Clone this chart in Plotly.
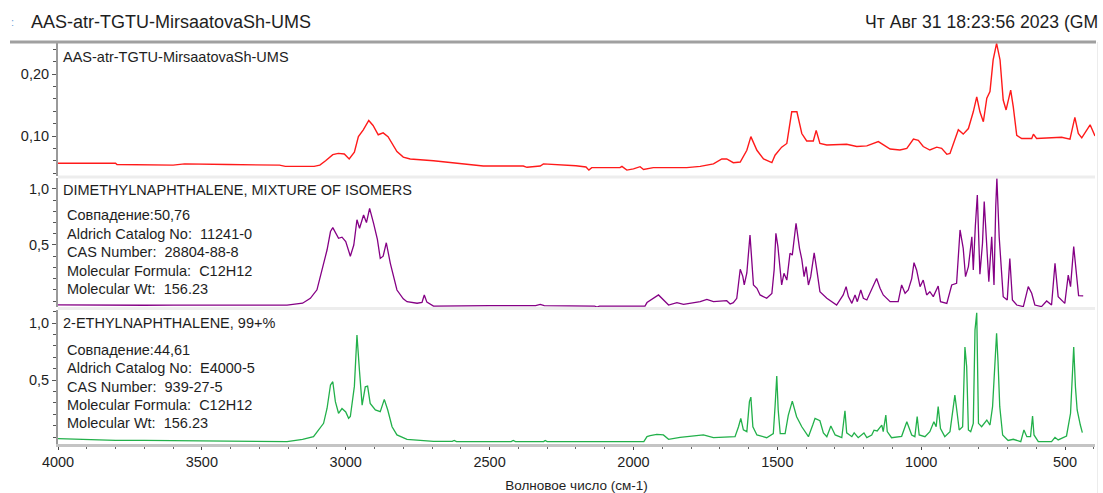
import plotly.graph_objects as go

# ---- sample spectrum (ATR) ----
red_wn = [4000, 3800, 3795, 3700, 3690, 3600, 3560, 3420, 3410, 3230, 3210, 3110, 3090, 3070,
          3045, 3026, 3005, 2988, 2970, 2956, 2939, 2920, 2905, 2887, 2870, 2853, 2822, 2800,
          2776, 2695, 2661, 2578, 2522, 2383, 2370, 2324, 2313, 2200, 2165, 2155, 2145, 2116,
          2047, 2040, 2023, 2000, 1977, 1965, 1931, 1815, 1768, 1722, 1693, 1676, 1653, 1629,
          1606, 1592, 1571, 1548, 1519, 1508, 1485, 1467, 1450, 1432, 1415, 1398, 1375, 1365,
          1352, 1328, 1259, 1224, 1189, 1149, 1108, 1074, 1050, 1027, 1010, 993, 970, 946, 929,
          911, 900, 871, 854, 836, 819, 807, 796, 784, 772, 761, 750, 738, 726, 715, 705, 689,
          680, 668, 651, 616, 610, 599, 553, 512, 483, 466, 454, 442, 413, 396]
red_abs = [0.056, 0.056, 0.054, 0.054, 0.053, 0.053, 0.055, 0.055, 0.054, 0.053, 0.051, 0.051, 0.053, 0.060,
           0.070, 0.072, 0.071, 0.063, 0.074, 0.099, 0.110, 0.125, 0.117, 0.102, 0.105, 0.099, 0.075, 0.066,
           0.063, 0.060, 0.0585, 0.0543, 0.0516, 0.0516, 0.0495, 0.0516, 0.055, 0.052, 0.050, 0.045, 0.049, 0.049,
           0.049, 0.051, 0.045, 0.047, 0.0505, 0.046, 0.049, 0.049, 0.051, 0.055, 0.063, 0.063, 0.057, 0.058,
           0.077, 0.099, 0.077, 0.063, 0.057, 0.069, 0.082, 0.088, 0.139, 0.139, 0.104, 0.092, 0.092, 0.109,
           0.088, 0.0855, 0.0866, 0.083, 0.084, 0.091, 0.079, 0.0774, 0.080, 0.095, 0.093, 0.083, 0.0774, 0.082, 0.080,
           0.0705, 0.072, 0.110, 0.103, 0.112, 0.139, 0.163, 0.139, 0.123, 0.161, 0.1715, 0.2226, 0.2495, 0.2226, 0.158, 0.142, 0.174,
           0.147, 0.101, 0.096, 0.096, 0.103, 0.096, 0.097, 0.098, 0.095, 0.130, 0.104, 0.097, 0.118, 0.100]

# ---- library spectrum: dimethylnaphthalene ----
dmn_wn = [4000, 3900, 3800, 3700, 3600, 3400, 3204, 3150, 3123, 3100, 3088, 3065, 3053, 3045, 3025,
          3013, 3000, 2990, 2984, 2972, 2961, 2952, 2938, 2928, 2917, 2903, 2890, 2880, 2870, 2859,
          2845, 2822, 2800, 2787, 2752, 2735, 2727, 2718, 2695, 2500, 2340, 2324, 2310, 2135, 2127,
          2118, 1960, 1953, 1913, 1878, 1849, 1826, 1768, 1745, 1722, 1676, 1664, 1653, 1641, 1629,
          1620, 1615, 1606, 1595, 1589, 1583, 1571, 1560, 1537, 1519, 1511, 1505, 1498, 1490, 1485,
          1477, 1467, 1456, 1448, 1435, 1423, 1415, 1407, 1400, 1392, 1384, 1372, 1363, 1352, 1328,
          1294, 1271, 1261, 1253, 1241, 1230, 1222, 1210, 1201, 1189, 1172, 1164, 1155, 1143, 1132,
          1108, 1080, 1068, 1056, 1045, 1033, 1025, 1016, 1004, 993, 981, 970, 958, 941, 933, 911,
          894, 877, 865, 854, 846, 836, 824, 819, 812, 805, 796, 787, 781, 773, 765, 755, 747, 741,
          737, 729, 715, 701, 692, 683, 668, 645, 628, 616, 605, 582, 564, 547, 535, 524, 501, 489,
          481, 470, 461, 453, 437]
dmn_abs = [-0.035, -0.038, -0.036, -0.038, -0.036, -0.036, -0.036, -0.02, 0.024, 0.10, 0.217, 0.455, 0.62, 0.655, 0.56,
           0.57, 0.53, 0.45, 0.40, 0.50, 0.725, 0.649, 0.768, 0.70, 0.827, 0.69, 0.55, 0.38, 0.40, 0.52,
           0.336, 0.098, 0.02, -0.006, -0.02, -0.012, 0.054, -0.01, -0.045, -0.042, -0.042, -0.03, -0.042, -0.045, -0.055,
           -0.045, -0.045, -0.014, 0.054, -0.036, -0.014, -0.03, -0.006, 0.015, -0.006, 0.003, -0.027, -0.015, 0.024, 0.283,
           0.22, 0.143, 0.25, 0.589, 0.36, 0.143, 0.113, 0.054, 0.024, 0.068, 0.28, 0.604, 0.485, 0.28, 0.143,
           0.247, 0.187, 0.426, 0.41, 0.694, 0.47, 0.372, 0.217, 0.307, 0.143, 0.217, 0.43, 0.28, 0.083, 0.024,
           -0.036, 0.054, 0.128, 0.039, -0.021, 0.054, -0.006, 0.098, 0.024, 0.009, 0.113, 0.158, 0.20, 0.113, 0.054,
           -0.006, -0.006, 0.143, 0.069, 0.098, 0.20, 0.342, 0.277, 0.128, 0.187, 0.054, 0.083, 0.039, 0.134, -0.006, -0.021,
           0.143, 0.158, 0.634, 0.47, 0.217, 0.307, 0.574, 0.277, 0.663, 0.946, 0.24, 0.515, 0.887, 0.574, 0.172, 0.574, 0.143, 0.842,
           1.095, 0.574, 0.039, 0.009, 0.38, 0.009, -0.036, -0.05, 0.128, 0.069, -0.036, -0.05, 0.0, -0.036, 0.336, 0.039, -0.021, 0.232,
           0.128, 0.485, 0.277, 0.048, 0.045]

# ---- library spectrum: 2-ethylnaphthalene ----
etn_wn = [4000, 3950, 3900, 3800, 3700, 3500, 3300, 3204, 3150, 3112, 3077, 3065, 3053, 3045, 3036,
          3025, 3013, 3000, 2990, 2984, 2970, 2961, 2952, 2943, 2932, 2924, 2915, 2897, 2880, 2866,
          2854, 2839, 2822, 2787, 2695, 2630, 2623, 2615, 2425, 2418, 2410, 2312, 2307, 2300, 1964,
          1953, 1942, 1919, 1896, 1878, 1838, 1792, 1757, 1722, 1676, 1647, 1635, 1627, 1618, 1606,
          1597, 1592, 1585, 1571, 1537, 1514, 1508, 1502, 1497, 1490, 1473, 1462, 1448, 1433, 1415,
          1392, 1377, 1369, 1352, 1340, 1328, 1314, 1299, 1276, 1265, 1259, 1241, 1233, 1219, 1199,
          1189, 1172, 1164, 1153, 1137, 1132, 1123, 1118, 1103, 1068, 1050, 1033, 1022, 1014, 1007,
          987, 970, 956, 948, 941, 933, 918, 900, 891, 883, 875, 868, 856, 848, 842, 836, 828, 819,
          813, 807, 801, 790, 772, 761, 752, 744, 738, 733, 727, 717, 698, 680, 654, 643, 633, 620,
          613, 608, 593, 547, 535, 524, 495, 481, 474, 470, 464, 458, 447, 440]
etn_abs = [-0.015, -0.02, -0.025, -0.03, -0.03, -0.035, -0.04, -0.04, -0.02, 0.003, 0.12, 0.25, 0.456, 0.485, 0.31,
           0.208, 0.25, 0.22, 0.164, 0.18, 0.444, 0.895, 0.573, 0.28, 0.44, 0.447, 0.295, 0.237, 0.222, 0.33,
           0.237, 0.09, 0.018, -0.02, -0.038, -0.038, -0.03, -0.04, -0.04, -0.03, -0.04, -0.04, -0.03, -0.04, -0.041,
           0.003, 0.012, 0.023, 0.018, -0.02, -0.003, 0.009, 0.018, -0.006, 0.003, 0.003, 0.09, 0.164, 0.062, 0.047,
           0.31, 0.35, 0.09, 0.018, -0.006, 0.03, 0.266, 0.535, 0.237, 0.03, 0.03, 0.19, 0.315, 0.178, 0.09,
           0.003, 0.105, 0.164, 0.143, 0.036, 0.003, 0.096, 0.018, -0.006, 0.23, 0.036, 0.003, 0.036, -0.006, 0.036,
           -0.006, 0.018, 0.06, 0.053, 0.105, 0.047, 0.193, 0.047, -0.006, 0.006, 0.134, 0.018, 0.003, 0.18, 0.018,
           0.003, 0.047, 0.134, 0.09, 0.266, 0.074, 0.003, 0.047, 0.208, 0.368, 0.208, 0.062, 0.09, 0.79, 0.617, 0.062, 0.047, 0.12,
           0.94, 1.09, 0.12, 0.09, 0.149, 0.105, 0.266, 0.676, 0.91, 0.66, 0.266, 0.018, -0.03, -0.02, -0.04, 0.062, 0.003, 0.003,
           0.184, 0.018, -0.041, -0.041, -0.003, -0.026, 0.009, 0.208, 0.573, 0.79, 0.44, 0.237, 0.105, 0.038]

x_ticks = [4000, 3500, 3000, 2500, 2000, 1500, 1000, 500]
header_title = "AAS-atr-TGTU-MirsaatovaSh-UMS"
header_date = "Чт Авг 31 18:23:56 2023 (GM"
NB = "\u00a0"
dmn_info = ["Совпадение:50,76",
            "Aldrich Catalog No:" + NB * 2 + "11241-0",
            "CAS Number:" + NB * 2 + "28804-88-8",
            "Molecular Formula:" + NB * 2 + "C12H12",
            "Molecular Wt:" + NB * 2 + "156.23"]
etn_info = ["Совпадение:44,61",
            "Aldrich Catalog No:" + NB * 2 + "E4000-5",
            "CAS Number:" + NB * 2 + "939-27-5",
            "Molecular Formula:" + NB * 2 + "C12H12",
            "Molecular Wt:" + NB * 2 + "156.23"]

W, H = 1103, 493
L, R, T, B = 58, 8, 42, 49
PW, PH = W - L - R, H - T - B
FONT = "Liberation Sans, Arial, sans-serif"
TXT = "#1e1e1e"


def fx(px):
    return (px - L) / PW


def fy(py):
    return (T + PH - py) / PH


fig = go.Figure()
fig.add_trace(go.Scatter(x=red_wn, y=red_abs, mode="lines", yaxis="y",
                         line=dict(color="#ff1a1a", width=1.4), hoverinfo="skip"))
fig.add_trace(go.Scatter(x=dmn_wn, y=dmn_abs, mode="lines", yaxis="y2",
                         line=dict(color="#850085", width=1.3), hoverinfo="skip"))
fig.add_trace(go.Scatter(x=etn_wn, y=etn_abs, mode="lines", yaxis="y3",
                         line=dict(color="#22b04a", width=1.3), hoverinfo="skip"))

yax_common = dict(showgrid=False, zeroline=False, showline=True, linecolor="#9a9a9a", linewidth=2,
                  ticks="outside", ticklen=4, tickwidth=1, tickcolor="#555555", automargin=False,
                  tickfont=dict(family=FONT, size=14.5, color=TXT), anchor="x", fixedrange=True)

fig.update_layout(
    width=W, height=H, margin=dict(l=L, r=R, t=T, b=B, autoexpand=False),
    paper_bgcolor="white", plot_bgcolor="white", showlegend=False,
    xaxis=dict(range=[4000, 396], anchor="y3", showgrid=False, zeroline=False, automargin=False,
               showline=True, linecolor="#c4c4c4", linewidth=3,
               tickmode="array", tickvals=x_ticks, ticktext=[str(v) for v in x_ticks],
               ticks="outside", ticklen=3, tickcolor="#444444",
               minor=dict(tickmode="linear", tick0=0, dtick=100, ticks="outside", ticklen=2, tickcolor="#666666"),
               tickfont=dict(family=FONT, size=14.5, color=TXT),
               title=dict(text="Волновое число (см-1)", font=dict(family=FONT, size=13.5, color=TXT), standoff=16)),
    yaxis=dict(domain=[fy(176), 1.0], range=[0.0355, 0.2516],
               tickmode="array", tickvals=[0.10, 0.20], ticktext=["0,10", "0,20"],
               minor=dict(tickmode="linear", tick0=0, dtick=0.02, ticks="outside", ticklen=3, tickcolor="#555555"),
               **yax_common),
    yaxis2=dict(domain=[fy(307), fy(178)], range=[-0.0536, 1.098],
                tickmode="array", tickvals=[0.5, 1.0], ticktext=["0,5", "1,0"],
                minor=dict(tickmode="linear", tick0=0, dtick=0.1, ticks="outside", ticklen=3, tickcolor="#555555"),
                **yax_common),
    yaxis3=dict(domain=[0.0, fy(310)], range=[-0.0614, 1.114],
                tickmode="array", tickvals=[0.5, 1.0], ticktext=["0,5", "1,0"],
                minor=dict(tickmode="linear", tick0=0, dtick=0.1, ticks="outside", ticklen=3, tickcolor="#555555"),
                **yax_common),
)

shapes = [
    # header rule
    dict(type="line", xref="paper", yref="paper", x0=fx(10), x1=fx(1096), y0=fy(42), y1=fy(42),
         line=dict(color="#a0a0a0", width=3)),
    # separators between the panels
    dict(type="rect", xref="paper", yref="paper", x0=0, x1=1, y0=fy(178.5), y1=fy(175.5),
         fillcolor="#ededed", line=dict(width=0)),
    dict(type="rect", xref="paper", yref="paper", x0=0, x1=1, y0=fy(310), y1=fy(307),
         fillcolor="#ededed", line=dict(width=0)),
    # right frame edge
    dict(type="line", xref="paper", yref="paper", x0=fx(1097.5), x1=fx(1097.5), y0=fy(493), y1=fy(42),
         line=dict(color="#ececec", width=1)),
]
fig.update_layout(shapes=shapes)

ann = []


def label(text, px, py, size=14.5, color=TXT):
    ann.append(dict(text=text, x=fx(px), y=fy(py), xref="paper", yref="paper",
                    xanchor="left", yanchor="middle", showarrow=False,
                    font=dict(family=FONT, size=size, color=color)))


label(":", 9, 22, size=11, color="#6f9fd6")
label(header_title, 29, 22, size=18)
label(header_date, 863, 22, size=17.6)
label(header_title, 61, 57)
label("DIMETHYLNAPHTHALENE, MIXTURE OF ISOMERS", 61, 190)
for i, t in enumerate(dmn_info):
    label(t, 65, 215 + i * 18.5)
label("2-ETHYLNAPHTHALENE, 99+%", 61, 323)
for i, t in enumerate(etn_info):
    label(t, 65, 350 + i * 18.3)
fig.update_layout(annotations=ann)

fig.write_html("out.html")
